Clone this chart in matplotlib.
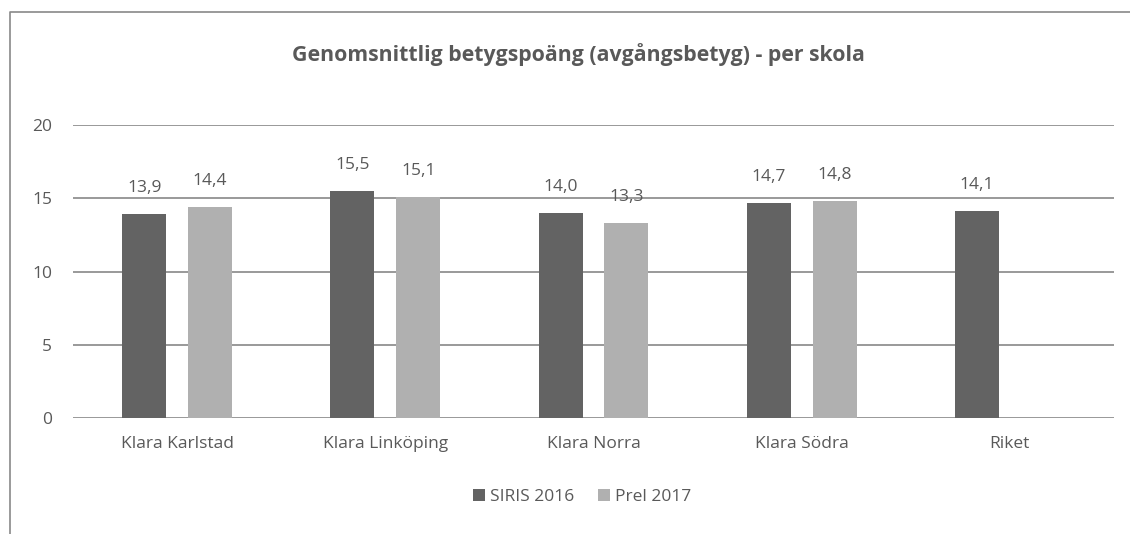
import numpy as np
import matplotlib
matplotlib.use("Agg")
import matplotlib.pyplot as plt
from matplotlib.lines import Line2D

# data
schools = ["Klara Karlstad", "Klara Linköping", "Klara Norra", "Klara Södra", "Riket"]
siris_2016 = [13.9, 15.5, 14.0, 14.7, 14.1]
prel_2017 = [14.4, 15.1, 13.3, 14.8, np.nan]
series_names = ["SIRIS 2016", "Prel 2017"]
yticks = [0, 5, 10, 15, 20]

plt.rcParams['font.family'] = ['Open Sans', 'DejaVu Sans']
txt = '#595959'

fig = plt.figure(figsize=(11.3, 5.34), dpi=100)
ax = fig.add_axes([73/1130, 1-418/534, (1114-73)/1130, (418-125)/534])

x = np.arange(len(schools))
w = 0.211
off = 0.158
b1 = ax.bar(x - off, siris_2016, w, color='#636363', label=series_names[0], zorder=3)
b2 = ax.bar(x + off, prel_2017, w, color='#B0B0B0', label=series_names[1], zorder=3)

fmt = lambda v: f"{v:.1f}".replace('.', ',')
ax.bar_label(b1, labels=[fmt(v) for v in siris_2016], padding=13, fontsize=12.5, color=txt)
ax.bar_label(b2, labels=['' if np.isnan(v) else fmt(v) for v in prel_2017],
             padding=13, fontsize=12.5, color=txt)

ax.set_xlim(-0.5, len(schools) - 0.5)
ax.set_ylim(0, 20)
ax.set_yticks(yticks)
ax.set_xticks(x)
ax.set_xticklabels(schools)
ax.tick_params(length=0, labelsize=12.5, labelcolor=txt)
ax.tick_params(axis='y', pad=15)
ax.tick_params(axis='x', pad=13)
ax.yaxis.grid(True, color='#999999', linewidth=1.4, zorder=0)
ax.set_axisbelow(True)
for s in ax.spines.values():
    s.set_visible(False)

fig.text(578/1130, 1-55/534, "Genomsnittlig betygspoäng (avgångsbetyg) - per skola",
         ha='center', va='center', fontsize=15.3, fontweight='bold', color=txt)

fig.legend(loc='center', bbox_to_anchor=(582/1130, 1-497/534), ncol=2, frameon=False,
           fontsize=12.5, labelcolor=txt, handlelength=0.7, handleheight=0.7,
           handletextpad=0.25, columnspacing=1.4)

# chart border (only left and top visible in crop)
fig.add_artist(Line2D([10/1130, 10/1130, 1], [0, 1-12/534, 1-12/534],
                      transform=fig.transFigure, color='#898989', linewidth=1.2))

plt.savefig("out.png", dpi=100)
